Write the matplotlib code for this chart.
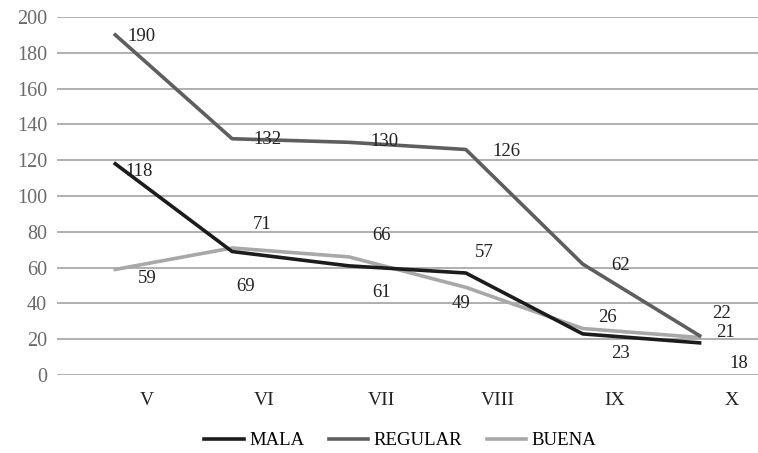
import matplotlib
matplotlib.use("Agg")
import matplotlib.pyplot as plt
import matplotlib.transforms as mtransforms

grados = ["V", "VI", "VII", "VIII", "IX", "X"]
mala = [118, 69, 61, 57, 23, 18]
regular = [190, 132, 130, 126, 62, 22]
buena = [59, 71, 66, 49, 26, 21]

# label offsets in pixels (dx, dy) from each point
off_mala = [(24, -8), (13, -35), (33, -27), (18, 21), (38, -20), (39, -21)]
off_regular = [(26, -2), (35, -1), (35, 1), (41, -2), (38, -1), (22, 22)]
off_buena = [(32, -9), (30, 23), (33, 21), (-5, -16), (25, 11), (26, 5)]

plt.rcParams['font.family'] = ['Liberation Serif', 'DejaVu Serif']

fig = plt.figure(figsize=(7.58, 4.53), dpi=100)
ax = fig.add_axes([0.075, 0.172, 0.925, 0.7905])

x = list(range(len(grados)))
series = [
    ("MALA", mala, "#1c1c1c", off_mala, 4),
    ("REGULAR", regular, "#5e5e5e", off_regular, 3),
    ("BUENA", buena, "#a8a8a8", off_buena, 2),
]
for name, vals, col, offs, z in series:
    ax.plot(x, vals, color=col, lw=2.6, label=name, zorder=z)
    for xi, v, (dx, dy) in zip(x, vals, offs):
        ax.annotate(str(v), (xi, v), xytext=(dx, dy), textcoords="offset pixels",
                    ha="center", va="center", fontsize=13.5, color="#222222")

ax.set_xlim(-0.5, len(grados) - 0.5)
ax.set_ylim(0, 200)
ax.set_yticks(range(0, 201, 20))
ax.set_xticks(x)
ax.set_xticklabels(grados)
ax.grid(axis="y", color="#a9a9a9", lw=1.3)
ax.set_axisbelow(True)
for s in ax.spines.values():
    s.set_visible(False)
ax.tick_params(axis="both", length=0)
ax.tick_params(axis="y", colors="#6a6a6a", pad=7, labelsize=14.5)
ax.tick_params(axis="x", colors="#222222", pad=12, labelsize=14)

shift = mtransforms.ScaledTranslation(32 / 100, 0, fig.dpi_scale_trans)
for lab in ax.get_xticklabels():
    lab.set_transform(lab.get_transform() + shift)

ax.legend(loc="upper center", bbox_to_anchor=(0.49, -0.128), ncol=3,
          frameon=False, fontsize=13.5, handlelength=2.1, columnspacing=1.3,
          handletextpad=0.3, borderaxespad=0.2)

fig.savefig("out.png", dpi=100)
